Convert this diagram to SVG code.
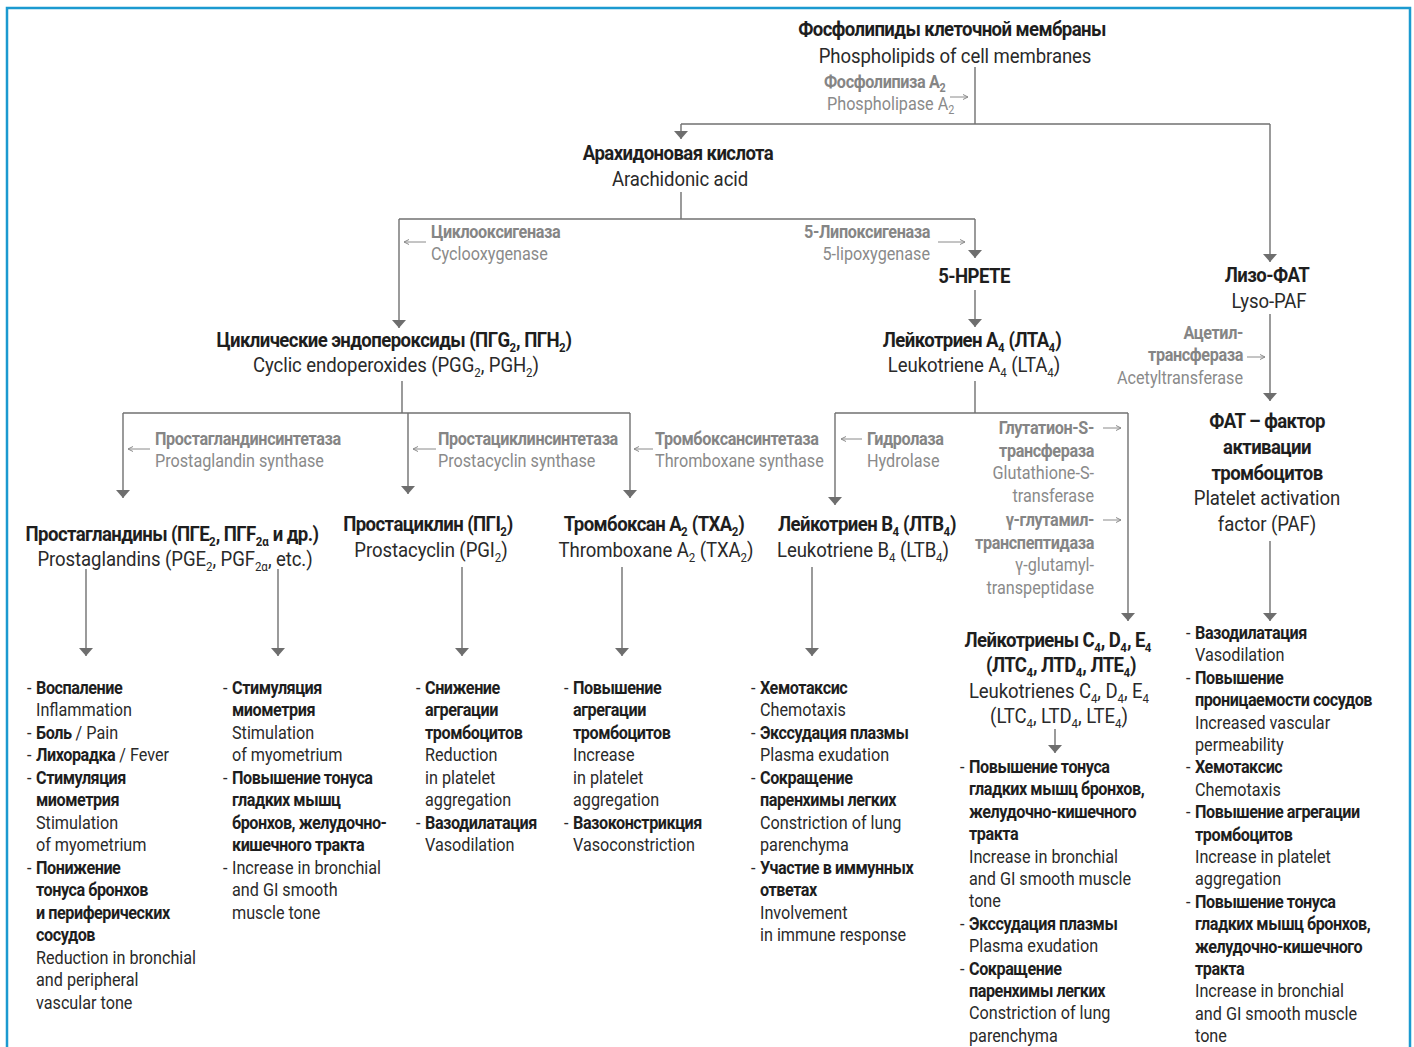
<svg xmlns="http://www.w3.org/2000/svg" width="1414" height="1047" viewBox="0 0 1414 1047">
<style>
text{font-family:Roboto,"Liberation Sans",sans-serif}
.h{font-size:21px;font-weight:700;fill:#1e1e1e;letter-spacing:-0.65px}
.r{font-size:21px;font-weight:400;fill:#2a2a2a;letter-spacing:-0.1px}
.eb{font-size:18px;font-weight:700;fill:#858585;letter-spacing:-0.4px}
.er{font-size:18px;font-weight:400;fill:#8a8a8a}
.l{font-size:18px;fill:#2a2a2a}
.b{font-weight:700;fill:#1e1e1e;letter-spacing:-0.5px}
.s{font-size:13px;letter-spacing:0}
.ss{font-size:12px;letter-spacing:0}
.c{text-anchor:middle}
.e{text-anchor:end}
.ln{stroke:#707070;stroke-width:1.4;fill:none}
.sm{stroke:#8a8a8a;stroke-width:1;fill:none}
.frame{stroke:#1b9ad0;stroke-width:2.5;fill:none}
</style>
<defs>
<marker id="ah" markerUnits="userSpaceOnUse" markerWidth="9" markerHeight="15" refX="8" refY="7" orient="auto" viewBox="0 0 9 15">
<path d="M0,0 L8,7 L0,14 z" fill="#6e6e6e"/>
</marker>
<marker id="sa" markerUnits="userSpaceOnUse" markerWidth="6" markerHeight="6" refX="5" refY="3" orient="auto" viewBox="0 0 6 6">
<path d="M0,0.5 L5,3 L0,5.5" fill="none" stroke="#8a8a8a" stroke-width="1"/>
</marker>
</defs>
<rect width="1414" height="1047" fill="#ffffff"/>
<path class="frame" d="M7,1047 V8 H1410 V1047"/>

<g id="connectors">
<path class="ln" d="M975,67 V124"/>
<path class="ln" d="M681,124 H1270"/>
<path class="ln" d="M681,124 V139" marker-end="url(#ah)"/>
<path class="ln" d="M1270,124 V262" marker-end="url(#ah)"/>
<path class="ln" d="M681,192 V219"/>
<path class="ln" d="M399,219 H975"/>
<path class="ln" d="M399,219 V328" marker-end="url(#ah)"/>
<path class="ln" d="M975,219 V258" marker-end="url(#ah)"/>
<path class="ln" d="M975,290 V327" marker-end="url(#ah)"/>
<path class="ln" d="M402,381 V413"/>
<path class="ln" d="M123,413 H630"/>
<path class="ln" d="M123,413 V498" marker-end="url(#ah)"/>
<path class="ln" d="M408,413 V494" marker-end="url(#ah)"/>
<path class="ln" d="M630,413 V498" marker-end="url(#ah)"/>
<path class="ln" d="M975,381 V413"/>
<path class="ln" d="M835,413 H1128"/>
<path class="ln" d="M835,413 V505" marker-end="url(#ah)"/>
<path class="ln" d="M1128,413 V621" marker-end="url(#ah)"/>
<path class="ln" d="M1270,314 V401" marker-end="url(#ah)"/>
<path class="ln" d="M1270,541 V621" marker-end="url(#ah)"/>
<path class="ln" d="M86,569 V656" marker-end="url(#ah)"/>
<path class="ln" d="M278,569 V656" marker-end="url(#ah)"/>
<path class="ln" d="M462,567 V656" marker-end="url(#ah)"/>
<path class="ln" d="M622,567 V656" marker-end="url(#ah)"/>
<path class="ln" d="M812,567 V656" marker-end="url(#ah)"/>
<path class="ln" d="M1055,729 V753" marker-end="url(#ah)"/>
<path class="sm" d="M950,97 H968" marker-end="url(#sa)"/>
<path class="sm" d="M426,242 H404" marker-end="url(#sa)"/>
<path class="sm" d="M938,242 H965" marker-end="url(#sa)"/>
<path class="sm" d="M150,449 H128" marker-end="url(#sa)"/>
<path class="sm" d="M436,449 H413" marker-end="url(#sa)"/>
<path class="sm" d="M653,449 H634" marker-end="url(#sa)"/>
<path class="sm" d="M862,439 H841" marker-end="url(#sa)"/>
<path class="sm" d="M1103,428 H1121" marker-end="url(#sa)"/>
<path class="sm" d="M1103,520 H1121" marker-end="url(#sa)"/>
<path class="sm" d="M1247,357 H1265" marker-end="url(#sa)"/>
</g>

<g id="enzymes">
<text class="eb" transform="translate(824,88) scale(.9,1)">Фосфолипиза A<tspan class="ss" dy="4">2</tspan></text>
<text class="er" transform="translate(827,110) scale(.9,1)">Phospholipase A<tspan class="ss" dy="4">2</tspan></text>
<text class="eb" transform="translate(431,238) scale(.9,1)">Циклооксигеназа</text>
<text class="er" transform="translate(431,260) scale(.9,1)">Cyclooxygenase</text>
<text class="eb e" transform="translate(930,238) scale(.9,1)">5-Липоксигеназа</text>
<text class="er e" transform="translate(930,260) scale(.9,1)">5-lipoxygenase</text>
<text class="eb" transform="translate(155,445) scale(.9,1)">Простагландинсинтетаза</text>
<text class="er" transform="translate(155,467) scale(.9,1)">Prostaglandin synthase</text>
<text class="eb" transform="translate(438,445) scale(.9,1)">Простациклинсинтетаза</text>
<text class="er" transform="translate(438,467) scale(.9,1)">Prostacyclin synthase</text>
<text class="eb" transform="translate(655,445) scale(.9,1)">Тромбоксансинтетаза</text>
<text class="er" transform="translate(655,467) scale(.9,1)">Thromboxane synthase</text>
<text class="eb" transform="translate(867,445) scale(.9,1)">Гидролаза</text>
<text class="er" transform="translate(867,467) scale(.9,1)">Hydrolase</text>
<text class="eb e" transform="translate(1094,434) scale(.9,1)">Глутатион-S-</text>
<text class="eb e" transform="translate(1094,457) scale(.9,1)">трансфераза</text>
<text class="er e" transform="translate(1094,479) scale(.9,1)">Glutathione-S-</text>
<text class="er e" transform="translate(1094,502) scale(.9,1)">transferase</text>
<text class="eb e" transform="translate(1094,526) scale(.9,1)">γ-глутамил-</text>
<text class="eb e" transform="translate(1094,549) scale(.9,1)">транспептидаза</text>
<text class="er e" transform="translate(1094,571) scale(.9,1)">γ-glutamyl-</text>
<text class="er e" transform="translate(1094,594) scale(.9,1)">transpeptidase</text>
<text class="eb e" transform="translate(1243,339) scale(.9,1)">Ацетил-</text>
<text class="eb e" transform="translate(1243,361) scale(.9,1)">трансфераза</text>
<text class="er e" transform="translate(1243,384) scale(.9,1)">Acetyltransferase</text>
</g>

<g id="n-phospholipids">
<text class="h c" transform="translate(952,36) scale(.885,1)">Фосфолипиды клеточной мембраны</text>
<text class="r c" transform="translate(955,63) scale(.885,1)">Phospholipids of cell membranes</text>
</g>
<g id="n-arachidonic">
<text class="h c" transform="translate(678,160) scale(.885,1)">Арахидоновая кислота</text>
<text class="r c" transform="translate(680,186) scale(.885,1)">Arachidonic acid</text>
</g>
<g id="n-cyclic">
<text class="h c" transform="translate(394,347) scale(.885,1)">Циклические эндопероксиды (ПГG<tspan class="s" dy="5">2</tspan><tspan dy="-5">, ПГН</tspan><tspan class="s" dy="5">2</tspan><tspan dy="-5">)</tspan></text>
<text class="r c" transform="translate(396,372) scale(.885,1)">Cyclic endoperoxides (PGG<tspan class="s" dy="5">2</tspan><tspan dy="-5">, PGH</tspan><tspan class="s" dy="5">2</tspan><tspan dy="-5">)</tspan></text>
</g>
<g id="n-hpete">
<text class="h c" transform="translate(974,283) scale(.885,1)">5-HPETE</text>
</g>
<g id="n-lta4">
<text class="h c" transform="translate(972,347) scale(.885,1)">Лейкотриен А<tspan class="s" dy="5">4</tspan><tspan dy="-5"> (ЛТА</tspan><tspan class="s" dy="5">4</tspan><tspan dy="-5">)</tspan></text>
<text class="r c" transform="translate(974,372) scale(.885,1)">Leukotriene A<tspan class="s" dy="5">4</tspan><tspan dy="-5"> (LTA</tspan><tspan class="s" dy="5">4</tspan><tspan dy="-5">)</tspan></text>
</g>
<g id="n-lysopaf">
<text class="h c" transform="translate(1267,282) scale(.885,1)">Лизо-ФАТ</text>
<text class="r c" transform="translate(1269,308) scale(.885,1)">Lyso-PAF</text>
</g>
<g id="n-paf">
<text class="h c" transform="translate(1267,428) scale(.885,1)">ФАТ – фактор</text>
<text class="h c" transform="translate(1267,454) scale(.885,1)">активации</text>
<text class="h c" transform="translate(1267,480) scale(.885,1)">тромбоцитов</text>
<text class="r c" transform="translate(1267,505) scale(.885,1)">Platelet activation</text>
<text class="r c" transform="translate(1267,531) scale(.885,1)">factor (PAF)</text>
</g>
<g id="n-pg">
<text class="h c" transform="translate(172,541) scale(.885,1)">Простагландины (ПГЕ<tspan class="s" dy="5">2</tspan><tspan dy="-5">, ПГF</tspan><tspan class="s" dy="5">2α</tspan><tspan dy="-5"> и др.)</tspan></text>
<text class="r c" transform="translate(175,566) scale(.885,1)">Prostaglandins (PGE<tspan class="s" dy="5">2</tspan><tspan dy="-5">, PGF</tspan><tspan class="s" dy="5">2α</tspan><tspan dy="-5">, etc.)</tspan></text>
</g>
<g id="n-pgi">
<text class="h c" transform="translate(428,531) scale(.885,1)">Простациклин (ПГI<tspan class="s" dy="5">2</tspan><tspan dy="-5">)</tspan></text>
<text class="r c" transform="translate(431,557) scale(.885,1)">Prostacyclin (PGI<tspan class="s" dy="5">2</tspan><tspan dy="-5">)</tspan></text>
</g>
<g id="n-txa">
<text class="h c" transform="translate(654,531) scale(.885,1)">Тромбоксан А<tspan class="s" dy="5">2</tspan><tspan dy="-5"> (ТХА</tspan><tspan class="s" dy="5">2</tspan><tspan dy="-5">)</tspan></text>
<text class="r c" transform="translate(656,557) scale(.885,1)">Thromboxane A<tspan class="s" dy="5">2</tspan><tspan dy="-5"> (TXA</tspan><tspan class="s" dy="5">2</tspan><tspan dy="-5">)</tspan></text>
</g>
<g id="n-ltb4">
<text class="h c" transform="translate(867,531) scale(.885,1)">Лейкотриен В<tspan class="s" dy="5">4</tspan><tspan dy="-5"> (ЛТВ</tspan><tspan class="s" dy="5">4</tspan><tspan dy="-5">)</tspan></text>
<text class="r c" transform="translate(863,557) scale(.885,1)">Leukotriene B<tspan class="s" dy="5">4</tspan><tspan dy="-5"> (LTB</tspan><tspan class="s" dy="5">4</tspan><tspan dy="-5">)</tspan></text>
</g>
<g id="n-ltc4">
<text class="h c" transform="translate(1058,647) scale(.885,1)">Лейкотриены С<tspan class="s" dy="5">4</tspan><tspan dy="-5">, D</tspan><tspan class="s" dy="5">4</tspan><tspan dy="-5">, E</tspan><tspan class="s" dy="5">4</tspan></text>
<text class="h c" transform="translate(1061,672) scale(.885,1)">(ЛТС<tspan class="s" dy="5">4</tspan><tspan dy="-5">, ЛТD</tspan><tspan class="s" dy="5">4</tspan><tspan dy="-5">, ЛТЕ</tspan><tspan class="s" dy="5">4</tspan><tspan dy="-5">)</tspan></text>
<text class="r c" transform="translate(1059,698) scale(.885,1)">Leukotrienes C<tspan class="s" dy="5">4</tspan><tspan dy="-5">, D</tspan><tspan class="s" dy="5">4</tspan><tspan dy="-5">, E</tspan><tspan class="s" dy="5">4</tspan></text>
<text class="r c" transform="translate(1059,723) scale(.885,1)">(LTC<tspan class="s" dy="5">4</tspan><tspan dy="-5">, LTD</tspan><tspan class="s" dy="5">4</tspan><tspan dy="-5">, LTE</tspan><tspan class="s" dy="5">4</tspan><tspan dy="-5">)</tspan></text>
</g>

<g id="list-pg1" class="l" transform="translate(36,694) scale(.9,1)">
<text y="0"><tspan x="-10">-</tspan><tspan x="0" class="b">Воспаление</tspan></text>
<text y="22.5">Inflammation</text>
<text y="45"><tspan x="-10">-</tspan><tspan x="0" class="b">Боль</tspan> / Pain</text>
<text y="67.5"><tspan x="-10">-</tspan><tspan x="0" class="b">Лихорадка</tspan> / Fever</text>
<text y="90"><tspan x="-10">-</tspan><tspan x="0" class="b">Стимуляция</tspan></text>
<text y="112.5" class="b">миометрия</text>
<text y="135">Stimulation</text>
<text y="157.5">of myometrium</text>
<text y="180"><tspan x="-10">-</tspan><tspan x="0" class="b">Понижение</tspan></text>
<text y="202.5" class="b">тонуса бронхов</text>
<text y="225" class="b">и периферических</text>
<text y="247.5" class="b">сосудов</text>
<text y="270">Reduction in bronchial</text>
<text y="292.5">and peripheral</text>
<text y="315">vascular tone</text>
</g>
<g id="list-pg2" class="l" transform="translate(232,694) scale(.9,1)">
<text y="0"><tspan x="-10">-</tspan><tspan x="0" class="b">Стимуляция</tspan></text>
<text y="22.5" class="b">миометрия</text>
<text y="45">Stimulation</text>
<text y="67.5">of myometrium</text>
<text y="90"><tspan x="-10">-</tspan><tspan x="0" class="b">Повышение тонуса</tspan></text>
<text y="112.5" class="b">гладких мышц</text>
<text y="135" class="b">бронхов, желудочно-</text>
<text y="157.5" class="b">кишечного тракта</text>
<text y="180"><tspan x="-10">-</tspan><tspan x="0">Increase in bronchial</tspan></text>
<text y="202.5">and GI smooth</text>
<text y="225">muscle tone</text>
</g>
<g id="list-pgi" class="l" transform="translate(425,694) scale(.9,1)">
<text y="0"><tspan x="-10">-</tspan><tspan x="0" class="b">Снижение</tspan></text>
<text y="22.5" class="b">агрегации</text>
<text y="45" class="b">тромбоцитов</text>
<text y="67.5">Reduction</text>
<text y="90">in platelet</text>
<text y="112.5">aggregation</text>
<text y="135"><tspan x="-10">-</tspan><tspan x="0" class="b">Вазодилатация</tspan></text>
<text y="157.5">Vasodilation</text>
</g>
<g id="list-txa" class="l" transform="translate(573,694) scale(.9,1)">
<text y="0"><tspan x="-10">-</tspan><tspan x="0" class="b">Повышение</tspan></text>
<text y="22.5" class="b">агрегации</text>
<text y="45" class="b">тромбоцитов</text>
<text y="67.5">Increase</text>
<text y="90">in platelet</text>
<text y="112.5">aggregation</text>
<text y="135"><tspan x="-10">-</tspan><tspan x="0" class="b">Вазоконстрикция</tspan></text>
<text y="157.5">Vasoconstriction</text>
</g>
<g id="list-ltb4" class="l" transform="translate(760,694) scale(.9,1)">
<text y="0"><tspan x="-10">-</tspan><tspan x="0" class="b">Хемотаксис</tspan></text>
<text y="22.5">Chemotaxis</text>
<text y="45"><tspan x="-10">-</tspan><tspan x="0" class="b">Экссудация плазмы</tspan></text>
<text y="67.5">Plasma exudation</text>
<text y="90"><tspan x="-10">-</tspan><tspan x="0" class="b">Сокращение</tspan></text>
<text y="112.5" class="b">паренхимы легких</text>
<text y="135">Constriction of lung</text>
<text y="157.5">parenchyma</text>
<text y="180"><tspan x="-10">-</tspan><tspan x="0" class="b">Участие в иммунных</tspan></text>
<text y="202.5" class="b">ответах</text>
<text y="225">Involvement</text>
<text y="247.5">in immune response</text>
</g>
<g id="list-ltc4" class="l" transform="translate(969,773) scale(.9,1)">
<text y="0"><tspan x="-10">-</tspan><tspan x="0" class="b">Повышение тонуса</tspan></text>
<text y="22.4" class="b">гладких мышц бронхов,</text>
<text y="44.8" class="b">желудочно-кишечного</text>
<text y="67.2" class="b">тракта</text>
<text y="89.6">Increase in bronchial</text>
<text y="112">and GI smooth muscle</text>
<text y="134.4">tone</text>
<text y="156.8"><tspan x="-10">-</tspan><tspan x="0" class="b">Экссудация плазмы</tspan></text>
<text y="179.2">Plasma exudation</text>
<text y="201.6"><tspan x="-10">-</tspan><tspan x="0" class="b">Сокращение</tspan></text>
<text y="224" class="b">паренхимы легких</text>
<text y="246.4">Constriction of lung</text>
<text y="268.8">parenchyma</text>
</g>
<g id="list-paf" class="l" transform="translate(1195,639) scale(.9,1)">
<text y="0"><tspan x="-10">-</tspan><tspan x="0" class="b">Вазодилатация</tspan></text>
<text y="22.4">Vasodilation</text>
<text y="44.8"><tspan x="-10">-</tspan><tspan x="0" class="b">Повышение</tspan></text>
<text y="67.2" class="b">проницаемости сосудов</text>
<text y="89.6">Increased vascular</text>
<text y="112">permeability</text>
<text y="134.4"><tspan x="-10">-</tspan><tspan x="0" class="b">Хемотаксис</tspan></text>
<text y="156.8">Chemotaxis</text>
<text y="179.2"><tspan x="-10">-</tspan><tspan x="0" class="b">Повышение агрегации</tspan></text>
<text y="201.6" class="b">тромбоцитов</text>
<text y="224">Increase in platelet</text>
<text y="246.4">aggregation</text>
<text y="268.8"><tspan x="-10">-</tspan><tspan x="0" class="b">Повышение тонуса</tspan></text>
<text y="291.2" class="b">гладких мышц бронхов,</text>
<text y="313.6" class="b">желудочно-кишечного</text>
<text y="336" class="b">тракта</text>
<text y="358.4">Increase in bronchial</text>
<text y="380.8">and GI smooth muscle</text>
<text y="403.2">tone</text>
</g>
</svg>
